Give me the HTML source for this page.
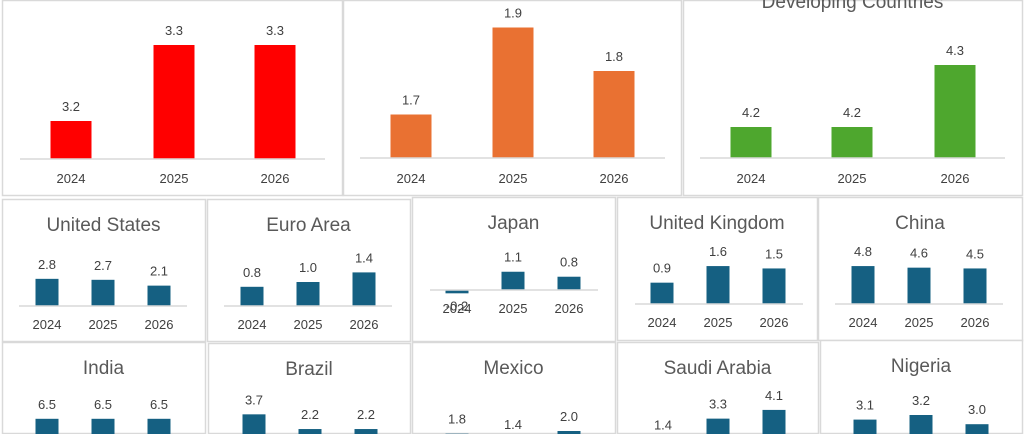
<!DOCTYPE html>
<html><head><meta charset="utf-8">
<style>
html,body{margin:0;padding:0;background:#fff;width:1024px;height:434px;overflow:hidden}
svg{display:block;font-family:"Liberation Sans",sans-serif;overflow:hidden}
</style></head>
<body>
<svg id="c" width="1024" height="434" viewBox="0 0 1024 434"></svg>
<script>
const categories = ["2024","2025","2026"];
const worldValues = [3.2,3.3,3.3];
const advancedValues = [1.7,1.9,1.8];
const developingValues = [4.2,4.2,4.3];
const usValues = [2.8,2.7,2.1];
const euroValues = [0.8,1.0,1.4];
const japanValues = [-0.2,1.1,0.8];
const ukValues = [0.9,1.6,1.5];
const chinaValues = [4.8,4.6,4.5];
const indiaValues = [6.5,6.5,6.5];
const brazilValues = [3.7,2.2,2.2];
const mexicoValues = [1.8,1.4,2.0];
const saudiValues = [1.4,3.3,4.1];
const nigeriaValues = [3.1,3.2,3.0];
const panelTitles = ["World","Advanced Economies","Developing Countries","United States","Euro Area","Japan","United Kingdom","China","India","Brazil","Mexico","Saudi Arabia","Nigeria"];

const NS="http://www.w3.org/2000/svg";
const svg=document.getElementById('c');
const H=434;
function mk(tag,attrs,parent){const e=document.createElementNS(NS,tag);for(const k in attrs)e.setAttribute(k,attrs[k]);(parent||svg).appendChild(e);return e;}

const panels=[
 {v:worldValues,x0:2,x1:342,y0:-2,y1:196,ax0:20,ax1:325,base:159,min:3.15,ppu:760,cx:[71,174,275],bw:41,col:"#ff0000",ty:-12,yl:183,fs:13,tfs:18},
 {v:advancedValues,x0:343,x1:681,y0:-2,y1:196,ax0:360,ax1:665,base:158,min:1.6,ppu:435,cx:[411,513,614],bw:41,col:"#e97132",ty:-12,yl:183,fs:13,tfs:18},
 {v:developingValues,x0:683,x1:1022,y0:-2,y1:196,ax0:700,ax1:1005,base:158,min:4.15,ppu:620,cx:[751,852,955],bw:41,col:"#4ea72e",ty:8,yl:183,fs:13,tfs:19},
 {v:usValues,x0:2,x1:205,y0:199,y1:342,ax0:19,ax1:187,base:306,min:0,ppu:9.7,cx:[47,103,159]},
 {v:euroValues,x0:207,x1:410,y0:199,y1:342,ax0:224,ax1:392,base:306,min:0,ppu:24,cx:[252,308,364]},
 {v:japanValues,x0:412,x1:615,y0:197,y1:342,ax0:430,ax1:598,base:290,min:0,ppu:16.6,cx:[457,513,569]},
 {v:ukValues,x0:617,x1:817,y0:197,y1:341,ax0:635,ax1:803,base:304,min:0,ppu:23.7,cx:[662,718,774]},
 {v:chinaValues,x0:818,x1:1022,y0:197,y1:341,ax0:835,ax1:1003,base:304,min:0,ppu:7.9,cx:[863,919,975]},
 {v:indiaValues,x0:2,x1:205,y0:342,y1:436,ax0:19,ax1:187,base:450,min:0,ppu:4.8,cx:[47,103,159]},
 {v:brazilValues,x0:208,x1:410,y0:343,y1:436,ax0:224,ax1:392,base:450.6,min:0,ppu:9.8,cx:[254,310,366]},
 {v:mexicoValues,x0:412,x1:615,y0:342,y1:436,ax0:430,ax1:598,base:458,min:0,ppu:13.5,cx:[457,513,569]},
 {v:saudiValues,x0:617,x1:818,y0:342,y1:436,ax0:635,ax1:803,base:454.6,min:0,ppu:10.9,cx:[663,718,774]},
 {v:nigeriaValues,x0:820,x1:1022,y0:340,y1:436,ax0:837,ax1:1005,base:438,min:2.7,ppu:46,cx:[865,921,977]}
];

panels.forEach((p,i)=>{
  const g=mk('g',{});
  
  
  const py0=Math.max(p.y0,0), py1=Math.min(p.y1,H);
  const r=mk('rect',{x:p.x0+0.5,y:py0+0.5,width:p.x1-p.x0,height:py1-py0-1,fill:'#fff',stroke:'#d9d9d9','stroke-width':1.5},g);
  
  
  const ty=p.ty!==undefined?p.ty:p.y0+32;
  if(ty>0){
    const t=mk('text',{x:(p.x0+p.x1)/2,y:ty,'text-anchor':'middle','font-size':p.tfs||19,fill:'#595959'},g);
    t.textContent=panelTitles[i];
    
    
  }
  const fs=p.fs||13;
  const bw=p.bw||23;
  const yOf=v=>p.base-(v-p.min)*p.ppu;
  p.v.forEach((v,j)=>{
    const y=yOf(v);
    const top=Math.min(y,p.base), bot=Math.min(Math.max(y,p.base),H);
    if(bot>top){
      const b=mk('rect',{x:p.cx[j]-bw/2,y:top,width:bw,height:Math.max(bot-top,0.5),fill:p.col||'#156082'},g);
      
      
    }
    const ly=v>=0? y-10 : y+17;
    if(ly<H){
      const l=mk('text',{x:p.cx[j],y:ly,'text-anchor':'middle','font-size':fs,fill:'#404040'},g);
      l.textContent=v.toFixed(1);
      
      
    }
    const yl=p.yl!==undefined?p.yl:p.base+23;
    if(yl<H){
      const c=mk('text',{x:p.cx[j],y:yl,'text-anchor':'middle','font-size':fs,fill:'#404040'},g);
      c.textContent=categories[j];
      
      
    }
  });
  if(p.base<H){
    const a=mk('line',{x1:p.ax0,x2:p.ax1,y1:p.base,y2:p.base,stroke:'#d9d9d9','stroke-width':1.5},g);
    
    
  }
});
</script>
</body></html>
